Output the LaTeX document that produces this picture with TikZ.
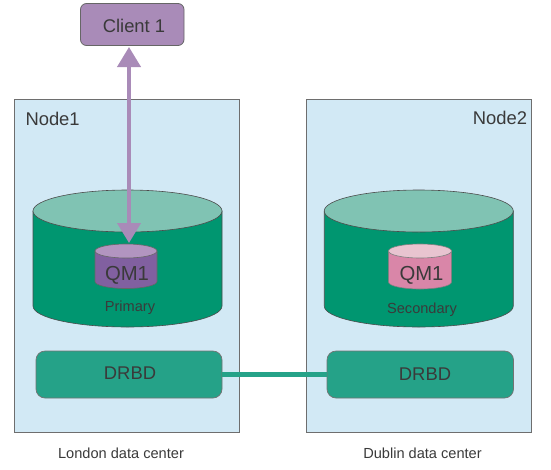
\documentclass[tikz,border=0pt]{standalone}
\usepackage{fontspec}
\setmainfont{Liberation Sans}
\usetikzlibrary{arrows.meta}
\definecolor{txt}{HTML}{3A3A3A}
\definecolor{edge}{HTML}{6E6E6E}
\definecolor{hostfill}{HTML}{D2E9F5}
\definecolor{drumbody}{HTML}{009670}
\definecolor{drumtop}{HTML}{80C3B3}
\definecolor{plum}{HTML}{A98BB8}
\definecolor{qmpbody}{HTML}{8160A0}
\definecolor{qmptop}{HTML}{B295C0}
\definecolor{qmsbody}{HTML}{D986A8}
\definecolor{qmstop}{HTML}{E8C4D0}
\definecolor{drbdfill}{HTML}{25A288}
% \canister{name}{cx}{top of lid}{bottom}{half width}{lid half height}{body colour}{lid colour}{line}
\newcommand{\canister}[9]{%
  \pgfmathsetmacro{\cxl}{#2-#5}\pgfmathsetmacro{\cxr}{#2+#5}%
  \pgfmathsetmacro{\cyt}{#3+#6}\pgfmathsetmacro{\cyb}{#4-#6}%
  \pgfmathsetmacro{\cym}{(#3+#4)/2}\pgfmathsetmacro{\cw}{2*#5}\pgfmathsetmacro{\chh}{#4-#3}%
  \draw[draw=#9,line width=0.6pt,fill=#7] (\cxl,\cyt) -- (\cxl,\cyb) arc[start angle=180,end angle=360,x radius=#5pt,y radius=#6pt] -- (\cxr,\cyt) -- cycle;
  \draw[draw=#9,line width=0.6pt,fill=#8] (#2,\cyt) ellipse[x radius=#5pt,y radius=#6pt];
  \node[minimum width=\cw pt,minimum height=\chh pt] (#1) at (#2,\cym) {};
}
\tikzset{
  x=1pt,y=-1pt,
  every node/.style={inner sep=0pt,outer sep=0pt},
  label14/.style={anchor=base,text=txt,font=\fontsize{14.6}{16}\selectfont},
  label18/.style={anchor=base,text=txt,font=\fontsize{18.4}{20}\selectfont},
  label20/.style={anchor=base,text=txt,font=\fontsize{20.3}{22}\selectfont},
  hostbox/.style={draw=edge,fill=hostfill,line width=0.9pt,anchor=north west,minimum width=225pt,minimum height=333pt},
  drbdbox/.style={draw=black!55,fill=drbdfill,line width=0.7pt,rounded corners=9pt,minimum height=47pt},
  clientbox/.style={draw=black!60,fill=plum,line width=0.8pt,rounded corners=6pt,minimum width=103.5pt,minimum height=42pt},
  link/.style={draw=drbdfill,line width=5.5pt},
  dbl/.style={draw=plum,line width=4pt,{Triangle[width=23pt,length=20pt]}-{Triangle[width=23pt,length=20pt]}}
}
\begin{document}
\begin{tikzpicture}
\useasboundingbox (0,0) rectangle (551,469);
\node[hostbox] (host1) at (14.5,99.5) {};
\node[hostbox] (host2) at (306,99.5) {};
\canister{drum1}{127.5}{190}{327}{94.5}{21}{drumbody}{drumtop}{black!70}
\canister{drum2}{418.75}{190}{327}{94.5}{21}{drumbody}{drumtop}{black!70}
\canister{qm1}{126}{244}{288.5}{31}{7}{qmpbody}{qmptop}{black!60}
\canister{qm2}{420}{244}{289}{31.5}{7}{qmsbody}{qmstop}{black!50}
\node[clientbox] (client) at (132.25,24.5) {};
\node[drbdbox,minimum width=186pt] (drbd1) at (129,374.5) {};
\node[drbdbox,minimum width=186.5pt] (drbd2) at (420.25,374.5) {};
\draw[link] (drbd1) -- (drbd2);
\draw[dbl] ([xshift=-3.25pt,yshift=-1.5pt]client.south) -- ([xshift=3pt,yshift=1pt]qm1.north);
\node[label18] (tclient) at (134,32) {Client 1};
\node[label18,anchor=base west] (tn1) at (25.5,125) {Node1};
\node[label18,anchor=base east] (tn2) at (527,124.5) {Node2};
\node[label20] (tq1) at (127,280) {QM1};
\node[label20] (tq2) at (421.5,280) {QM1};
\node[label14] (tp) at (130,311.5) {Primary};
\node[label14] (ts) at (422,313) {Secondary};
\node[label18] (td1) at (130,379.5) {DRBD};
\node[label18] (td2) at (425,380) {DRBD};
\node[label14] (tl) at (121,458.5) {London data center};
\node[label14] (tdu) at (422.5,458) {Dublin data center};
\end{tikzpicture}
\end{document}
